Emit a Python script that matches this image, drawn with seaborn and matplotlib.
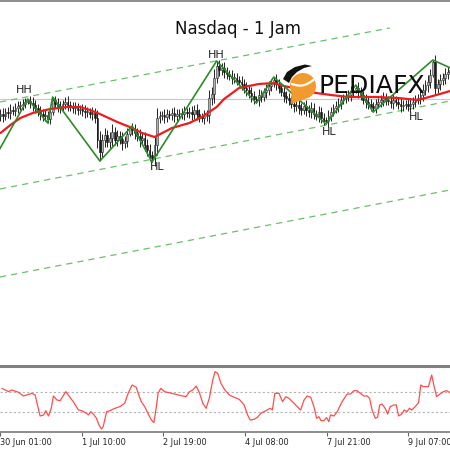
import numpy as np
import matplotlib
matplotlib.use('Agg')
import matplotlib.pyplot as plt
from matplotlib.patches import Polygon
import matplotlib.transforms as mtransforms
import seaborn as sns

# hourly Nasdaq candles, bar index 1..182 (close prices, estimated from the chart)
closes = [
    14786, 14784, 14788, 14787, 14790, 14789, 14792, 14794, 14795, 14796,
    14798, 14799, 14797, 14795, 14792, 14788, 14786, 14784, 14785, 14781,
    14788, 14800, 14796, 14794, 14792, 14796, 14798, 14795, 14793, 14792,
    14792, 14790, 14791, 14789, 14788, 14788, 14786, 14787, 14782, 14760,
    14748, 14760, 14765, 14758, 14762, 14768, 14760, 14764, 14761, 14757,
    14759, 14766, 14772, 14770, 14767, 14764, 14760, 14762, 14755, 14750,
    14745, 14742, 14755, 14782, 14784, 14785, 14783, 14786, 14785, 14787,
    14784, 14786, 14787, 14786, 14788, 14787, 14788, 14786, 14790, 14786,
    14783, 14782, 14784, 14785, 14802, 14806, 14822, 14834, 14830, 14832,
    14828, 14826, 14824, 14822, 14822, 14820, 14818, 14816, 14812, 14810,
    14807, 14804, 14801, 14800, 14805, 14803, 14808, 14810, 14814, 14816,
    14820, 14816, 14812, 14808, 14804, 14802, 14800, 14796, 14794, 14795,
    14792, 14790, 14794, 14790, 14788, 14792, 14786, 14784, 14788, 14782,
    14780, 14779, 14784, 14788, 14792, 14794, 14796, 14800, 14802, 14804,
    14805, 14808, 14810, 14812, 14808, 14805, 14800, 14798, 14796, 14794,
    14792, 14796, 14798, 14800, 14802, 14800, 14799, 14797, 14800, 14798,
    14796, 14794, 14795, 14796, 14794, 14796, 14798, 14800, 14802, 14805,
    14810, 14815, 14818, 14825, 14838, 14812, 14816, 14820, 14822, 14826,
    14828, 14830,
]
first_open = 14784
# wick length beyond the body, per bar
wicks = [
    5, 6, 4, 5, 6, 4, 5, 5, 4, 5,
    4, 2, 5, 6, 5, 4, 6, 5, 5, 4,
    5, 3, 4, 6, 5, 4, 5, 6, 4, 5,
    6, 5, 4, 5, 6, 5, 4, 6, 5, 8,
    9, 6, 7, 5, 6, 8, 5, 6, 5, 7,
    5, 6, 2, 5, 6, 5, 7, 5, 6, 6,
    6, 4, 8, 10, 5, 4, 6, 5, 4, 5,
    6, 5, 4, 5, 6, 4, 5, 6, 5, 6,
    5, 4, 6, 5, 8, 7, 9, 5, 6, 5,
    6, 5, 4, 6, 5, 5, 4, 6, 5, 6,
    5, 6, 5, 3, 6, 5, 4, 6, 5, 5,
    3, 6, 5, 4, 6, 5, 5, 4, 6, 5,
    6, 5, 4, 6, 5, 6, 5, 4, 6, 5,
    5, 3, 6, 5, 4, 5, 6, 5, 4, 5,
    5, 6, 4, 3, 6, 5, 4, 6, 5, 5,
    4, 5, 4, 5, 6, 5, 4, 5, 6, 4,
    5, 6, 5, 4, 5, 6, 5, 5, 4, 6,
    6, 5, 7, 6, 2, 7, 5, 6, 5, 6,
    5, 6,
]

# moving average (red), read at a set of bars
ma_idx = [1, 5, 9, 14, 21, 28, 33, 37, 41, 48, 53, 58, 63, 70, 77,
          82, 88, 91, 97, 105, 111, 115, 128, 134, 141, 152, 161, 169, 175, 182]
ma_val = [14767, 14775, 14782, 14787, 14791, 14793, 14793, 14790, 14786, 14778,
          14773, 14767, 14763, 14772, 14777, 14783, 14793, 14801, 14812, 14816,
          14817, 14814, 14807, 14805, 14803, 14803, 14802, 14800, 14804, 14809]

# zigzag swing points
zz_idx = [0, 12, 20, 22, 41, 54, 62, 88, 104, 111, 132, 144, 151, 175, 183]
zz_val = [14748, 14801, 14777, 14803, 14739, 14774, 14738, 14839, 14797,
          14823, 14776, 14815, 14788, 14840, 14831]

# swing labels
swing_text = ["HH", "HH", "HL", "HL", "HL"]
swing_idx = [10.5, 87.7, 64, 133.2, 168.2]
swing_val = [14810, 14845, 14733, 14768, 14783]

# trend channel (start / end of each dashed line)
upper_idx, upper_val = [0.8, 157.7], [14798, 14872]
middle_idx, middle_val = [0.8, 181.9], [14711, 14799]
lower_idx, lower_val = [0.8, 181.9], [14623, 14710]
ref_level = 14801

# oscillator in the lower pane
osc_idx = [0.8, 3.5, 4.8, 7.5, 9.5, 12.9, 14.2, 15.3, 16.2, 17.6, 18.5, 19.6, 20.7,
           21.6, 23, 24.3, 26.6, 27.6, 29.6, 31.7, 33, 35, 35.7, 36.7, 37.7, 39, 40,
           41, 41.7, 43.1, 44.4, 46.4, 48.4, 50.4, 51.8, 53.4, 55.1, 56.1, 57.1, 58.5,
           59.8, 61.2, 62.2, 63.2, 63.9, 65, 66.5, 70.6, 73.2, 75.2, 76.6, 77.9, 79.3,
           80.6, 82, 83.3, 84.6, 86, 86.9, 88, 89.3, 90.9, 92.7, 94.7, 96.7, 98.7,
           100.1, 101.1, 102.7, 104.1, 105.4, 107.4, 109.2, 110.1, 111.1, 112.8, 114.2,
           115.5, 116.8, 118.2, 120.2, 121.5, 122.9, 124.2, 125.6, 126.9, 128, 128.9,
           129.8, 130.9, 132, 132.9, 133.6, 135, 136.3, 138.3, 140.3, 141.7, 143,
           144.3, 145.7, 147, 148.4, 149.4, 150.4, 151.7, 152.6, 153.5, 154.4, 155.7,
           156.7, 157.7, 159.1, 160.2, 161.1, 162.4, 163.4, 164.5, 165.5, 166.5, 167.8,
           169.2, 170.1, 171.2, 173.2, 174.5, 175.5, 176.5, 177.9, 179.2, 180.5, 181.9]
osc_val = [65.5, 60.5, 63, 59.5, 54, 58, 55.5, 38, 24, 25.5, 32, 24, 35.5,
           54, 48, 47, 60.5, 55.5, 45.5, 33, 32, 28, 25.5, 30.5, 27, 20.5, 10.5,
           4.5, 8, 30.5, 32, 35.5, 38, 43, 58, 70.5, 67, 55.5, 45.5, 38,
           28, 18, 14, 38, 58, 65.5, 60.5, 57, 54.5, 53, 60.5, 63, 69,
           59, 43, 35.5, 50.5, 78, 90.5, 88, 73, 63, 55.5, 52, 49, 40.5,
           25.5, 18, 19, 22, 28, 32, 35.5, 33, 58, 58, 45.5,
           53, 50.5, 45.5, 38, 33, 48, 54, 52, 38, 20.5, 23,
           17, 17, 21.5, 15.5, 25.5, 24, 30.5, 45.5, 57, 57, 62,
           62, 58, 54, 54, 50.5, 33, 20.5, 22, 40.5, 42, 35.5,
           27, 38, 40.5, 40.5, 24, 27, 33, 30.5, 35.5, 33, 38,
           44, 70.5, 68, 68, 85.5, 68, 53, 57, 60.5, 62, 59]
osc_levels = [30, 60]

tick_idx = [0, 33, 66, 99, 132, 165]
tick_labels = ["30 Jun 01:00", "1 Jul 10:00", "2 Jul 19:00",
               "4 Jul 08:00", "7 Jul 21:00", "9 Jul 07:00"]

sns.set_theme(style="white")
plt.rcParams['font.family'] = ['DejaVu Sans']

fig = plt.figure(figsize=(4.5, 4.5), dpi=100)
fig.patch.set_facecolor("white")
xlim = (0.805, 181.9)

# ---- main price pane ----
ax = fig.add_axes([0, 1 - 365 / 450, 1, 364 / 450])
ax.set_xlim(*xlim)
ax.set_ylim(14535, 14899)
ax.set_facecolor("white")
for side in ["left", "right", "bottom"]:
    ax.spines[side].set_visible(False)
ax.spines["top"].set_color("#7a7a7a")
ax.spines["top"].set_linewidth(1.2)
ax.set_xticks([])
ax.set_yticks([])

ax.axhline(ref_level, color="#c8c8c8", lw=0.8, zorder=1)

for xs, ys in [(upper_idx, upper_val), (middle_idx, middle_val), (lower_idx, lower_val)]:
    ax.plot(xs, ys, color="#6cbf6c", lw=0.9, linestyle=(0, (5, 4)), zorder=1)

bars = np.arange(1, len(closes) + 1)
c = np.array(closes, dtype=float)
o = np.array([first_open] + closes[:-1], dtype=float)
w = np.array(wicks, dtype=float)
hi = np.maximum(o, c) + w
lo = np.minimum(o, c) - w
up = c >= o
ax.vlines(bars, lo, hi, color="#222222", lw=0.7, zorder=2)
body = np.maximum(np.abs(c - o), 1.0)
ax.bar(bars[up], body[up], bottom=o[up], width=0.7,
       color="#b0b0b0", edgecolor="#2a2a2a", linewidth=0.4, zorder=2)
ax.bar(bars[~up], body[~up], bottom=c[~up], width=0.7,
       color="#1a1a1a", edgecolor="#1a1a1a", linewidth=0.4, zorder=2)

sns.lineplot(x=ma_idx, y=ma_val, ax=ax, color="#ee1c1c", lw=1.6, zorder=3)
sns.lineplot(x=zz_idx, y=zz_val, ax=ax, color="#2a8c2a", lw=1.2, sort=False, zorder=4)

for t, xi, yi in zip(swing_text, swing_idx, swing_val):
    ax.text(xi, yi, t, fontsize=8, color="#222222", ha="center", va="center", zorder=5)

ax.set_xlabel("")
ax.set_ylabel("")

# ---- oscillator pane ----
ax2 = fig.add_axes([0, 1 - 432 / 450, 1, 66 / 450])
ax2.set_xlim(*xlim)
ax2.set_ylim(0, 99)
ax2.set_facecolor("white")
for side in ["left", "right"]:
    ax2.spines[side].set_visible(False)
ax2.spines["top"].set_color("#808080")
ax2.spines["top"].set_linewidth(2.2)
ax2.spines["bottom"].set_color("#8c8c8c")
ax2.spines["bottom"].set_linewidth(1.4)
for lv in osc_levels:
    ax2.axhline(lv, color="#b4b4b4", lw=0.8, linestyle=(0, (2, 2)), zorder=1)
sns.lineplot(x=osc_idx, y=osc_val, ax=ax2, color="#ff4d4d", lw=0.9, zorder=3)
ax2.set_yticks([])
ax2.set_xticks(tick_idx)
ax2.set_xticklabels([])
ax2.tick_params(axis="x", direction="out", length=3, width=0.8, color="#666666", bottom=True)
ax2.set_xlabel("")
ax2.set_ylabel("")
trans = mtransforms.blended_transform_factory(ax2.transData, ax2.transAxes)
for xi, lab in zip(tick_idx, tick_labels):
    ax2.text(xi, -0.09, lab, transform=trans, fontsize=5.9, color="#222222",
             ha="left", va="top", clip_on=False)

# ---- overlay: title and watermark (pixel coordinates) ----
ov = fig.add_axes([0, 0, 1, 1], zorder=10)
ov.set_xlim(0, 450)
ov.set_ylim(450, 0)
ov.axis("off")
ov.patch.set_alpha(0)

ov.text(238, 29, "Nasdaq - 1 Jam", fontsize=12, color="#111111", ha="center", va="center")

ang = np.linspace(-0.35 * np.pi, 1.15 * np.pi, 40)
drop = [(303 + 13 * np.cos(a), 86 - 13 * np.sin(a)) for a in ang] + [(291, 104)]
ov.add_patch(Polygon(drop, closed=True, facecolor="#f39a2e", edgecolor="none"))
sx = np.linspace(292, 314, 20)
ov.plot(sx, 84 + 3.5 * np.sin((sx - 292) / 22 * np.pi) - (sx - 292) * 0.2,
        color="white", lw=1.6)
wing = [(283, 79), (287, 72), (295, 67), (305, 64.5), (312, 66), (304, 68),
        (297, 72), (292, 77), (289, 83)]
ov.add_patch(Polygon(wing, closed=True, facecolor="#111111", edgecolor="none"))
ov.text(372, 86, "PEDIAFX", fontsize=18, color="#0d0d0d", ha="center", va="center")

fig.savefig("out.png", dpi=100, facecolor="white")
plt.close(fig)
